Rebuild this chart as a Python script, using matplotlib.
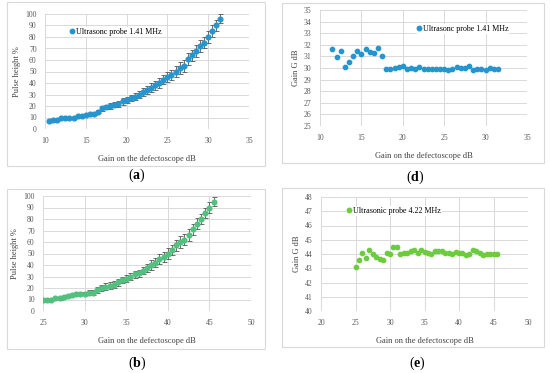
import matplotlib
matplotlib.use("Agg")
import matplotlib.pyplot as plt
from matplotlib.patches import Rectangle
from matplotlib.lines import Line2D

plt.rcParams['font.family'] = ['Liberation Serif', 'DejaVu Serif']
plt.rcParams['mathtext.fontset'] = 'custom'
plt.rcParams['mathtext.bf'] = 'Liberation Serif:bold'
plt.rcParams['mathtext.rm'] = 'Liberation Serif'

# ---------------- data ----------------
a_x = [10.5 + 0.5 * i for i in range(43)]
a_y = [7, 8, 8, 10, 10, 10, 10, 11, 11, 12, 13, 13, 15, 18, 19, 20, 21, 22, 24, 25,
       27, 28, 30, 32, 34, 36, 38, 40, 43, 45, 47, 50, 53, 55, 61, 64, 68, 72, 75, 80,
       85, 90, 96]
a_err = [0.5, 0.5, 0.5, 0.7, 0.7, 0.7, 0.7, 0.8, 0.8, 1, 1, 1, 1.5, 2, 2, 2.2, 2.3, 2.5,
         2.7, 2.8, 3, 3, 3.2, 3.4, 3.5, 3.6, 3.8, 4, 4, 4.2, 4.5, 4.7, 5, 5, 5, 5, 5, 5,
         5, 5, 5, 4.5, 4]

d_x = [11.5 + 0.5 * i for i in range(41)]
d_y = [31.6, 30.95, 31.5, 30.05, 30.5, 31.0, 31.5, 31.2, 31.65, 31.4, 31.25, 31.7, 31.0,
       29.9, 29.9, 29.97, 30.05, 30.15, 29.9, 30.0, 29.9, 30.05, 29.95, 29.9, 29.9, 29.9,
       29.95, 29.95, 29.85, 29.95, 30.05, 30.0, 30.0, 30.15, 29.8, 29.9, 29.9, 29.85,
       30.0, 29.95, 29.95]

b_x = [25 + 0.5 * i for i in range(42)]
b_y = [10, 10, 10, 11, 11, 12, 13, 14, 15, 15, 15, 16, 16, 18, 20, 21, 22, 23, 25, 27,
       28, 30, 32, 33, 35, 37, 40, 42, 45, 47, 50, 53, 57, 60, 62, 66, 71, 76, 80, 85,
       90, 95]
b_err = [0.5, 0.5, 0.5, 0.8, 1, 1, 1, 1, 1.2, 1.2, 1.5, 2, 2, 2.5, 3, 3, 3, 3, 3, 3, 3,
         3, 3, 3, 3, 3.5, 4, 4, 4.5, 4.5, 4.5, 4.5, 5, 5.5, 5, 5, 5, 5, 4.5, 4.5, 4.5, 4]

e_x = [25 + 0.5 * i for i in range(42)]
e_y = [43.1, 43.57, 44.08, 43.75, 44.27, 44.0, 43.8, 43.65, 43.55, 44.06, 44.0, 44.5,
       44.48, 44.0, 44.05, 44.1, 44.2, 44.3, 44.1, 44.3, 44.15, 44.05, 44.0, 44.2, 44.2,
       44.2, 44.05, 44.1, 44.0, 44.15, 44.1, 44.1, 43.95, 44.0, 44.25, 44.2, 44.1, 43.95,
       44.0, 44.0, 44.0, 44.0]

x_label = "Gain on the defectoscope dB"
legend_141 = "Ultrasonc probe 1.41 MHz"
legend_422 = "Ultrasonic probe 4.22 MHz"

BLUE = '#2595d0'
GREEN_B = '#52c07e'
GREEN_E = '#6ccc3e'
ERR = '#555555'
GRID = '#d9d9d9'
TICK = '#595959'

W, H = 550, 373
fig = plt.figure(figsize=(W / 100, H / 100), dpi=100)


def add_ax(left, right, top, bottom):
    return fig.add_axes([left / W, (H - bottom) / H, (right - left) / W, (bottom - top) / H])


def style(ax, xlim, xstep, ylim, ystep, ylabel):
    ax.set_xlim(*xlim)
    ax.set_ylim(*ylim)
    xt = list(range(xlim[0], xlim[1] + 1, xstep))
    yt = list(range(ylim[0], ylim[1] + 1, ystep))
    ax.set_xticks(xt)
    ax.set_yticks(yt)
    for s in ax.spines.values():
        s.set_visible(False)
    ax.grid(True, color=GRID, linewidth=0.7)
    ax.set_axisbelow(True)
    ax.tick_params(length=0, labelsize=5.5, labelcolor=TICK, pad=6)
    ax.set_xlabel(x_label, fontsize=6, color='#404040', labelpad=7)
    ax.set_ylabel(ylabel, fontsize=6, color='#404040', labelpad=3)


def legend(ax, color, text, x, y):
    h = Line2D([], [], marker='o', linestyle='none', color=color, ms=3.2)
    ax.legend([h], [text], loc='center left', bbox_to_anchor=(x, y), frameon=True,
              facecolor='white', edgecolor='none', framealpha=1, fontsize=5.8,
              handlelength=0.5, handletextpad=0.3, borderpad=0.1, borderaxespad=0)


def box(l, r, t, b):
    fig.patches.append(Rectangle((l / W, (H - b) / H), (r - l) / W, (b - t) / H,
                                 transform=fig.transFigure, fill=False,
                                 edgecolor=GRID, linewidth=0.8))


box(7, 265, 2, 166)
box(282, 544, 3, 163)
box(7, 265, 189, 349)
box(282, 544, 188, 347)

# (a)
ax = add_ax(45, 249, 14, 129)
ax.errorbar(a_x, a_y, yerr=a_err, fmt='o', color=BLUE, ms=3.4, ecolor=ERR,
            elinewidth=0.6, capsize=1.8, capthick=0.6)
style(ax, (10, 35), 5, (0, 100), 10, "Pulse height %")
legend(ax, BLUE, legend_141, 0.118, 0.843)

# (d)
ax = add_ax(320, 527, 10, 126)
ax.plot(d_x, d_y, 'o', color=BLUE, ms=3.1)
style(ax, (10, 35), 5, (25, 35), 1, "Gain G dB")
legend(ax, BLUE, legend_141, 0.464, 0.836)

# (b)
ax = add_ax(43, 251, 196, 311)
ax.errorbar(b_x, b_y, yerr=b_err, fmt='o', color=GREEN_B, ms=3.4, ecolor=ERR,
            elinewidth=0.6, capsize=1.8, capthick=0.6)
style(ax, (25, 50), 5, (0, 100), 10, "Pulse height %")

# (e)
ax = add_ax(321, 528, 197, 311)
ax.plot(e_x, e_y, 'o', color=GREEN_E, ms=3.1)
style(ax, (20, 50), 5, (40, 48), 1, "Gain G dB")
legend(ax, GREEN_E, legend_422, 0.121, 0.877)

# panel labels
for lab, x, y in [('a', 137, 175), ('d', 415, 177), ('b', 137, 363), ('e', 417, 363)]:
    fig.text(x / W, (H - y) / H, '(' + r'$\mathbf{' + lab + '}$' + ')',
             ha='center', va='center', fontsize=10, color='black')

fig.savefig('out.png', dpi=100, facecolor='white')
